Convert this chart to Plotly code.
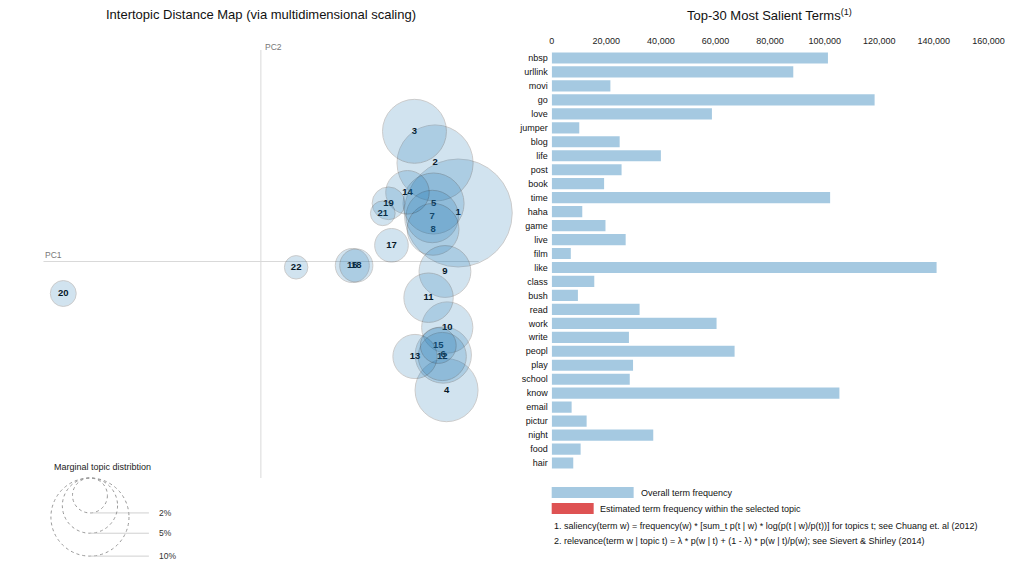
import numpy as np
import plotly.graph_objects as go

# topic map: PC1 / PC2 coordinates and marginal topic share (%)
topics = [str(i) for i in range(1, 23)]
pc1 = [0.1975, 0.1743, 0.1537, 0.1858, 0.1728, 0.1825, 0.1715, 0.1723, 0.1842, 0.1865, 0.1678,
       0.1815, 0.1542, 0.1467, 0.1775, 0.0915, 0.1307, 0.0955, 0.1277, -0.1977, 0.1220, 0.0353]
pc2 = [0.0485, 0.0985, 0.1302, -0.1287, 0.0580, -0.0935, 0.0450, 0.0322, -0.0100, -0.0660, -0.0362,
       -0.0950, -0.0950, 0.0692, -0.0840, -0.0040, 0.0162, -0.0040, 0.0582, -0.0320, 0.0482, -0.0058]
share = [19.1, 9.5, 6.7, 6.5, 6.1, 5.2, 4.5, 4.4, 4.4, 4.3, 4.0,
         3.8, 3.2, 3.1, 2.1, 1.9, 1.85, 1.8, 1.75, 1.1, 1.0, 0.9]
legend_share = [2, 5, 10]

# top-30 salient terms, overall frequency
terms = ['nbsp', 'urllink', 'movi', 'go', 'love', 'jumper', 'blog', 'life', 'post', 'book',
         'time', 'haha', 'game', 'live', 'film', 'like', 'class', 'bush', 'read', 'work',
         'write', 'peopl', 'play', 'school', 'know', 'email', 'pictur', 'night', 'food', 'hair']
freq = [101200, 88500, 21500, 118300, 58700, 10100, 24900, 40000, 25600, 19200,
        102000, 11200, 19700, 27100, 7000, 141000, 15600, 9600, 32200, 60400,
        28300, 67000, 29800, 28600, 105400, 7300, 12800, 37200, 10600, 7900]

# page placement of the figure (body margin, screenshot scaling)
OX, SX, OY = 10.0, 0.982, 8.0
W, H = 1024, 553
FONT = 'Liberation Sans, Arial, sans-serif'
PX = 1000.0          # pixels per MDS unit
R_K = 12.35          # bubble radius (px) per sqrt(percent)
X0, Y0 = 260, 261.5  # screen pixel of the PC origin


def px(x, y):
    # screen pixel -> paper coords
    return (x - OX) / SX / W, 1 - (y - OY) / H


def dx(x):
    return (x - X0) / PX


def dy(y):
    return (Y0 - y) / PX


def radius(p):
    return R_K * np.sqrt(p)


fig = go.Figure()

# topic labels under the bubbles so overlaps tint them
fig.add_trace(go.Scatter(
    x=pc1, y=pc2, mode='text', text=topics,
    textfont=dict(size=9.5, color='black', family=FONT, weight='bold'),
    hoverinfo='skip', showlegend=False, xaxis='x', yaxis='y', cliponaxis=False
))
fig.add_trace(go.Scatter(
    x=pc1, y=pc2, mode='markers',
    marker=dict(size=[2 * radius(s) for s in share], sizemode='diameter',
                color='#1f77b4', opacity=0.2, line=dict(color='black', width=1)),
    text=topics, showlegend=False, xaxis='x', yaxis='y', cliponaxis=False
))

# bar chart of term frequency
fig.add_trace(go.Bar(
    x=freq, y=terms, orientation='h',
    marker=dict(color='rgba(31,119,180,0.4)', line=dict(width=0)),
    showlegend=False, xaxis='x2', yaxis='y2'
))

shapes = []
annotations = []

# PC axes
shapes.append(dict(type='line', xref='x', yref='y', x0=dx(42.5), x1=dx(478), y0=0, y1=0,
                   line=dict(color='#d9d9d9', width=1), layer='below'))
shapes.append(dict(type='line', xref='x', yref='y', x0=0, x1=0, y0=dy(50), y1=dy(478),
                   line=dict(color='#d9d9d9', width=1), layer='below'))
annotations.append(dict(text='PC1', xref='x', yref='y', x=dx(42.5), y=dy(255), xanchor='left',
                        yanchor='middle', showarrow=False,
                        font=dict(size=8.5, color='#777', family=FONT)))
annotations.append(dict(text='PC2', xref='x', yref='y', x=dx(262), y=dy(47), xanchor='left',
                        yanchor='middle', showarrow=False,
                        font=dict(size=8.5, color='#777', family=FONT)))

# marginal topic distribution legend
leg_cx = dx(89)
leg_top = dy(478)
for p in legend_share:
    r = radius(p) / PX
    cy = leg_top - r
    shapes.append(dict(type='circle', xref='x', yref='y', x0=leg_cx - r, x1=leg_cx + r,
                       y0=cy - r, y1=cy + r, line=dict(color='#999', width=1, dash='dot')))
    shapes.append(dict(type='line', xref='x', yref='y', x0=leg_cx, x1=dx(148),
                       y0=cy - r, y1=cy - r, line=dict(color='#d0d0d0', width=1)))
    annotations.append(dict(text=f'{p}%', xref='x', yref='y', x=dx(156), y=cy - r,
                            xanchor='left', yanchor='middle', showarrow=False,
                            font=dict(size=8.5, color='#333', family=FONT)))
annotations.append(dict(text='Marginal topic distribtion', xref='x', yref='y',
                        x=dx(51), y=dy(467), xanchor='left', yanchor='middle', showarrow=False,
                        font=dict(size=9, color='#222', family=FONT)))

# titles
x, y = px(260, 15)
annotations.append(dict(text='Intertopic Distance Map (via multidimensional scaling)', xref='paper',
                        yref='paper', x=x, y=y, xanchor='center', yanchor='middle', showarrow=False,
                        font=dict(size=13, color='#111', family=FONT)))
x, y = px(769, 15)
annotations.append(dict(text='Top-30 Most Salient Terms<sup>(1)</sup>', xref='paper', yref='paper',
                        x=x, y=y, xanchor='center', yanchor='middle', showarrow=False,
                        font=dict(size=13, color='#111', family=FONT)))

# bar legend and footnotes
x0, y0 = px(551, 487)
x1, y1 = px(633, 498)
shapes.append(dict(type='rect', xref='paper', yref='paper', x0=x0, x1=x1, y0=y0, y1=y1,
                   fillcolor='rgba(31,119,180,0.4)', line=dict(width=0)))
x0, y0 = px(551, 503)
x1, y1 = px(593, 514)
shapes.append(dict(type='rect', xref='paper', yref='paper', x0=x0, x1=x1, y0=y0, y1=y1,
                   fillcolor='rgba(214,39,40,0.8)', line=dict(width=0)))
legend_text = [
    (638, 492.5, 'Overall term frequency'),
    (597, 508.5, 'Estimated term frequency within the selected topic'),
    (551, 526, '1. saliency(term w) = frequency(w) * [sum_t p(t | w) * log(p(t | w)/p(t))] '
               'for topics t; see Chuang et. al (2012)'),
    (551, 541, '2. relevance(term w | topic t) = \u03bb * p(w | t) + (1 - \u03bb) * p(w | t)/p(w); '
               'see Sievert & Shirley (2014)'),
]
for lx, ly, t in legend_text:
    x, y = px(lx, ly)
    annotations.append(dict(text=t, xref='paper', yref='paper', x=x, y=y, xanchor='left',
                            yanchor='middle', showarrow=False,
                            font=dict(size=9, color='#111', family=FONT)))

bar_top, bar_bot = 51, 470
left_edge = px(0, 0)[0] * W * SX + OX        # screen x of paper 0
right_edge = OX + SX * W                     # screen x of paper 1
fig.update_layout(
    width=W, height=H,
    margin=dict(l=0, r=0, t=0, b=0),
    paper_bgcolor='white', plot_bgcolor='white',
    font=dict(family=FONT, color='#111'),
    xaxis=dict(domain=[0, 1], range=[dx(OX), dx(right_edge)], visible=False, fixedrange=True),
    yaxis=dict(domain=[0, 1], range=[dy(OY + H), dy(OY)], visible=False, fixedrange=True),
    xaxis2=dict(domain=[px(551, 0)[0], px(988, 0)[0]], range=[0, 160000], side='top', anchor='y2',
                tickvals=list(range(0, 160001, 20000)), tickformat=',', showgrid=False,
                zeroline=False, showline=False, ticks='', tickfont=dict(size=9, color='#222'),
                ticklabelstandoff=4),
    yaxis2=dict(domain=[px(0, bar_bot)[1], px(0, bar_top)[1]], anchor='x2', type='category',
                categoryorder='array', categoryarray=terms, autorange='reversed',
                showgrid=False, zeroline=False, showline=False, ticks='',
                tickfont=dict(size=9, color='#111'), ticklabelstandoff=3),
    bargap=0.2,
    shapes=shapes,
    annotations=annotations,
)

fig.write_html("out.html")
